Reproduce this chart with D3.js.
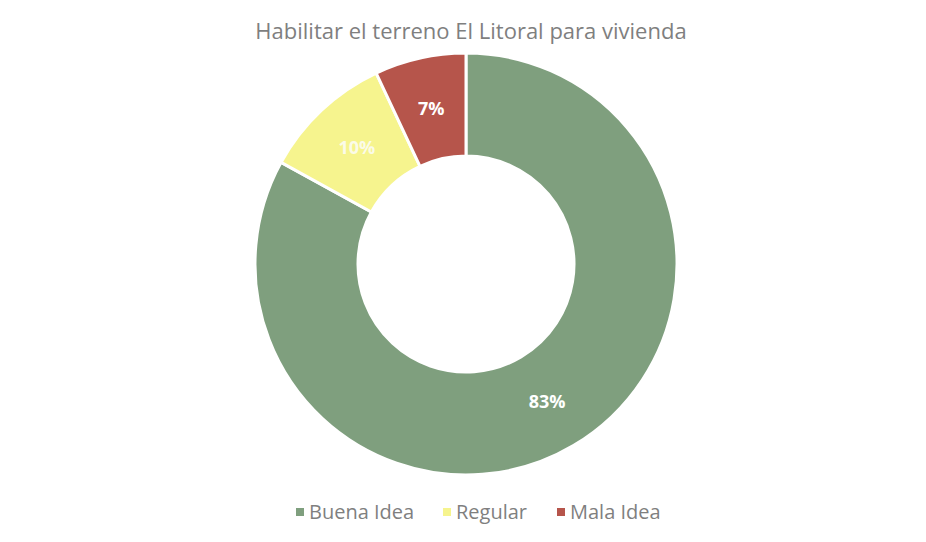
<!DOCTYPE html>
<html>
<head>
<meta charset="utf-8">
<script src="https://cdn.jsdelivr.net/npm/d3@7"></script>
<style>
  body { margin: 0; background: #fff; }
  svg { display: block; font-family: "Open Sans", "Noto Sans", sans-serif; }
</style>
</head>
<body>
<script>
var categories = ['Buena Idea', 'Regular', 'Mala Idea'];
var values = [83, 10, 7];
var labels = ['83%', '10%', '7%'];
var colors = ['#7f9f7e', '#f6f48e', '#b6554b'];

var width = 926, height = 542;
var cx = 466, cy = 264;
var outerR = 211, innerR = 108;

var svg = d3.select('body').append('svg')
    .attr('width', width)
    .attr('height', height);

svg.append('text')
    .attr('x', 471)
    .attr('y', 39)
    .attr('text-anchor', 'middle')
    .attr('fill', '#7f7f7f')
    .style('font-size', '22px')
    .text('Habilitar el terreno El Litoral para vivienda');

var pie = d3.pie().sort(null).value(function(d) { return d; });
var arc = d3.arc().innerRadius(innerR).outerRadius(outerR);

var g = svg.append('g').attr('transform', 'translate(' + cx + ',' + cy + ')');

var arcs = pie(values);

g.selectAll('path')
    .data(arcs)
    .enter()
    .append('path')
    .attr('d', arc)
    .attr('fill', function(d, i) { return colors[i]; })
    .attr('stroke', '#fff')
    .attr('stroke-width', 3)
    ;

g.selectAll('text')
    .data(arcs)
    .enter()
    .append('text')
    .attr('transform', function(d) { return 'translate(' + arc.centroid(d) + ')'; })
    .attr('text-anchor', 'middle')
    .attr('dy', '0.35em')
    .attr('fill', function(d, i) { return i === 1 ? '#fbfbe8' : '#fff'; })
    .style('font-size', '18px')
    .style('font-weight', 'bold')
    .text(function(d, i) { return labels[i]; })
    ;

// legend
var legendX = [296, 443, 557];
var legend = svg.append('g');
var items = legend.selectAll('g')
    .data(categories)
    .enter()
    .append('g')
    .attr('transform', function(d, i) { return 'translate(' + legendX[i] + ',512)'; });

items.append('rect')
    .attr('x', 0)
    .attr('y', -4)
    .attr('width', 8)
    .attr('height', 8)
    .attr('fill', function(d, i) { return colors[i]; });

items.append('text')
    .attr('x', 13)
    .attr('dy', '0.35em')
    .attr('fill', '#7f7f7f')
    .style('font-size', '20px')
    .text(function(d) { return d; });
</script>
</body>
</html>
